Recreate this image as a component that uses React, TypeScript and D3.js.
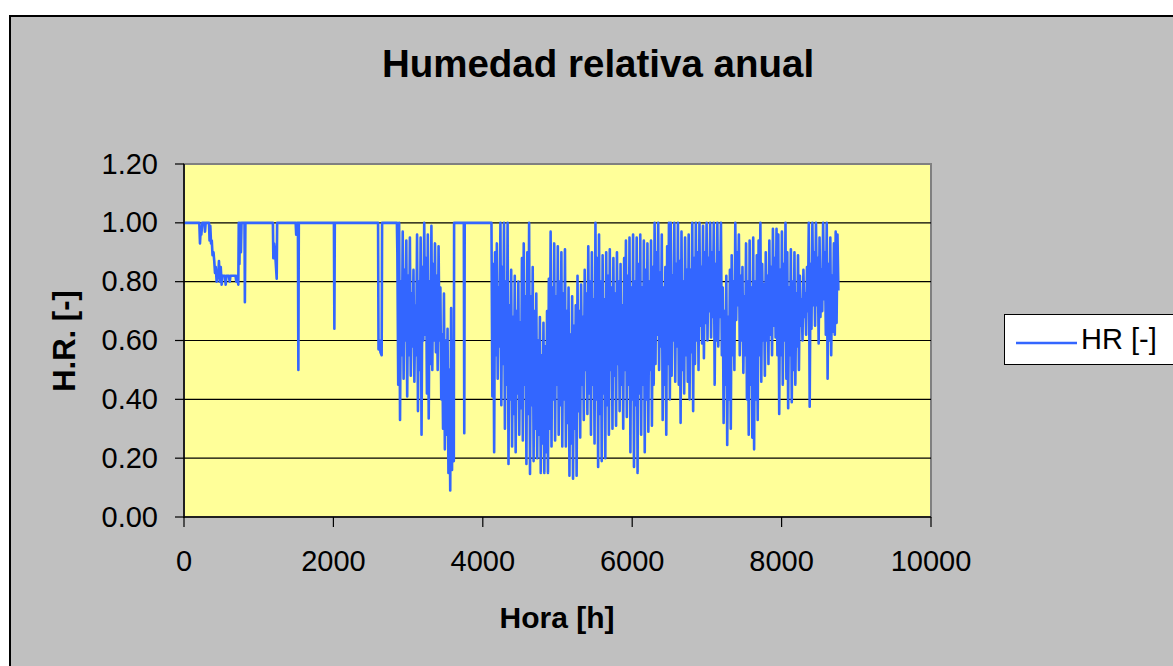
import { scaleLinear, line, format } from "d3";

// hourly relative humidity
// early part: sparse [hour, value] (mostly saturated at 1.0)
const winterPoints: [number, number][] = [
  [0, 1], [205, 1], [214, 0.93], [222, 0.97], [232, 0.96], [245, 1], [275, 1], [281, 0.97],
  [290, 1], [335, 1], [342, 0.94], [352, 0.99], [362, 0.93], [372, 0.94], [382, 0.89],
  [395, 0.9], [405, 0.87], [415, 0.83], [425, 0.85], [437, 0.8], [448, 0.83], [458, 0.82],
  [468, 0.87], [478, 0.8], [492, 0.85], [504, 0.79], [515, 0.82], [548, 0.82], [558, 0.79],
  [568, 0.82], [600, 0.82], [612, 0.8], [622, 0.82], [690, 0.82], [700, 0.8], [712, 0.82],
  [727, 0.79], [733, 1], [742, 0.86], [750, 1], [762, 0.9], [770, 1], [810, 1], [815, 0.73],
  [822, 1], [1190, 1], [1196, 0.88], [1205, 0.93], [1222, 0.89], [1241, 0.81], [1247, 1],
  [1495, 1], [1502, 0.96], [1512, 1], [1525, 1], [1531, 0.5], [1537, 1], [2007, 1],
  [2013, 0.64], [2019, 1], [2598, 1], [2604, 0.57], [2615, 0.6], [2630, 0.56], [2646, 0.55],
  [2652, 1], [2850, 1],
];

// daily [max, min] from hour 2856
const springStart = 2856;
const springDays: [number, number][] = [
  [0.9, 0.45], [1, 0.33], [0.8, 0.55], [0.97, 0.47], [0.84, 0.6], [0.94, 0.41], [0.82, 0.55],
  [0.95, 0.48], [0.76, 0.58], [0.84, 0.46], [0.72, 0.55], [0.96, 0.36], [0.8, 0.5], [0.95, 0.28],
  [0.85, 0.6], [1, 0.62], [0.88, 0.42], [0.96, 0.335], [0.8, 0.52], [0.99, 0.5], [0.86, 0.6],
  [0.93, 0.56], [0.82, 0.5], [0.92, 0.6], [0.78, 0.4], [0.62, 0.3], [0.76, 0.23], [0.6, 0.28],
  [0.64, 0.15], [0.5, 0.09], [0.71, 0.16], [0.6, 0.19],
];

const aprilPoints: [number, number][] = [
  [3616, 1], [3746, 1], [3752, 0.285], [3758, 1], [4110, 1],
];

// daily [max, min] from hour 4116
const summerStart = 4116;
const summerDays: [number, number][] = [
  [1, 0.41], [0.86, 0.22], [0.9, 0.55], [0.93, 0.47], [0.78, 0.58], [1, 0.38], [0.85, 0.52],
  [1, 0.3], [0.8, 0.45], [1, 0.18], [0.72, 0.4], [0.84, 0.24], [0.68, 0.35], [0.82, 0.22],
  [0.7, 0.42], [0.8, 0.28], [0.66, 0.37], [0.88, 0.26], [0.93, 0.45], [0.75, 0.18],
  [0.9, 0.35], [1, 0.146], [0.75, 0.38], [0.85, 0.19], [0.7, 0.3], [0.76, 0.2], [0.6, 0.28],
  [0.68, 0.15], [0.55, 0.25], [0.66, 0.15], [0.58, 0.22], [0.7, 0.15], [0.81, 0.3], [0.97, 0.24],
  [0.78, 0.4], [0.93, 0.26], [0.75, 0.45], [0.92, 0.28], [0.8, 0.38], [0.9, 0.24],
  [0.76, 0.4], [0.91, 0.24], [0.7, 0.32], [0.78, 0.14], [0.62, 0.25], [0.75, 0.13], [0.65, 0.3],
  [0.72, 0.14], [0.82, 0.36], [0.7, 0.27], [0.79, 0.45], [0.68, 0.33], [0.84, 0.5], [0.76, 0.35],
  [0.92, 0.42], [0.8, 0.28], [0.9, 0.45], [0.74, 0.25], [1, 0.4], [0.88, 0.17],
  [0.96, 0.35], [0.8, 0.19], [0.89, 0.42], [0.74, 0.2], [0.9, 0.38], [0.82, 0.28], [0.91, 0.5],
  [0.78, 0.3], [0.88, 0.48], [0.76, 0.31], [0.9, 0.52], [0.8, 0.36], [0.86, 0.45], [0.72, 0.3],
  [0.88, 0.5], [0.94, 0.34], [0.82, 0.45], [0.95, 0.22], [0.78, 0.4], [0.96, 0.17],
  [0.8, 0.38], [0.95, 0.15], [0.86, 0.42], [0.96, 0.28], [0.78, 0.45], [0.94, 0.22], [0.84, 0.4],
  [0.93, 0.29], [0.8, 0.5], [0.94, 0.31], [0.85, 0.45], [1, 0.52], [0.9, 0.62], [1, 0.5],
  [0.83, 0.58], [0.96, 0.33], [0.78, 0.45], [0.85, 0.28], [0.92, 0.52], [1, 0.4],
];

// daily [max, min] from hour 6516
const autumnStart = 6516;
const autumnDays: [number, number][] = [
  [1, 0.48], [0.82, 0.6], [1, 0.46], [0.86, 0.58], [1, 0.45], [0.87, 0.32], [0.97, 0.5],
  [0.8, 0.42], [0.95, 0.55], [0.84, 0.46], [0.96, 0.4], [0.84, 0.56], [1, 0.36], [0.88, 0.52],
  [1, 0.6], [0.9, 0.5], [1, 0.65], [0.85, 0.59], [0.99, 0.54], [0.9, 0.66],
  [1, 0.6], [0.88, 0.7], [1, 0.61], [0.9, 0.68], [1, 0.45], [0.86, 0.6], [1, 0.58],
  [0.9, 0.68], [1, 0.55], [0.78, 0.32], [0.7, 0.45], [0.82, 0.245], [0.68, 0.4], [0.84, 0.3],
  [0.89, 0.55], [0.8, 0.5], [1, 0.67], [0.9, 0.72], [0.96, 0.55], [0.82, 0.6],
  [0.85, 0.49], [0.75, 0.55], [0.93, 0.4], [0.8, 0.28], [0.94, 0.45], [0.78, 0.27], [0.95, 0.23],
  [0.8, 0.4], [0.89, 0.33], [0.94, 0.55], [1, 0.46], [0.86, 0.6], [0.79, 0.48], [0.9, 0.6],
  [0.82, 0.52], [0.94, 0.62], [0.85, 0.55], [0.98, 0.65], [0.88, 0.61], [0.98, 0.55],
  [0.96, 0.35], [0.84, 0.55], [0.97, 0.45], [0.86, 0.6], [1, 0.47], [0.9, 0.37], [0.78, 0.55],
  [0.91, 0.39], [0.8, 0.5], [0.9, 0.45], [0.76, 0.58], [0.89, 0.5], [0.82, 0.65], [0.74, 0.6],
  [0.84, 0.68], [0.76, 0.62], [0.85, 0.7], [1, 0.375], [0.86, 0.64], [1, 0.72],
  [0.9, 0.65], [1, 0.72], [0.88, 0.59], [0.95, 0.68], [0.84, 0.7], [1, 0.74], [0.9, 0.62],
  [1, 0.47], [0.86, 0.6], [0.95, 0.55], [0.82, 0.63], [0.93, 0.62], [0.97, 0.66], [0.96, 0.77],
];

const xTickValues = [0, 2000, 4000, 6000, 8000, 10000];
const yTickValues = [0, 0.2, 0.4, 0.6, 0.8, 1.0, 1.2];

const title = "Humedad relativa anual";
const xTitle = "Hora [h]";
const yTitle = "H.R. [-]";
const seriesName = "HR [-]";

const plot = { left: 184, right: 931, top: 164, bottom: 517 };
const lineColor = "#3366ff";
const font = "'Liberation Sans', Arial, Helvetica, sans-serif";
const formatY = format(".2f");

const dailyToPoints = (start: number, days: [number, number][]) =>
  days.flatMap(([hi, lo], i) => [
    [start + i * 24, hi] as [number, number],
    [start + i * 24 + 12, lo] as [number, number],
  ]);

const App = () => {
  const xScale = scaleLinear().domain([0, 10000]).range([plot.left, plot.right]);
  const yScale = scaleLinear().domain([0, 1.2]).range([plot.bottom, plot.top]);

  const series = [
    ...winterPoints,
    ...dailyToPoints(springStart, springDays),
    ...aprilPoints,
    ...dailyToPoints(summerStart, summerDays),
    ...dailyToPoints(autumnStart, autumnDays),
  ];

  const path = line<[number, number]>()
    .x((d) => xScale(d[0]))
    .y((d) => yScale(d[1]))(series);

  return (
    <div style={{ position: "fixed", left: 0, top: 0 }}>
      <svg width={1173} height={666} fontFamily={font} style={{ display: "block", background: "#fff" }}>
        <rect x={10} y={16} width={1200} height={700} fill="#c0c0c0" stroke="#000" strokeWidth={2} />
        <text x={598} y={77} textAnchor="middle" fontSize={38.5} fontWeight="bold">
          {title}
        </text>

        <rect
          x={plot.left}
          y={plot.top}
          width={plot.right - plot.left}
          height={plot.bottom - plot.top}
          fill="#ffff99"
          stroke="#808080"
          strokeWidth={2}
        />
        {yTickValues.slice(1, -1).map((t) => (
          <line key={t} x1={plot.left} x2={plot.right} y1={yScale(t)} y2={yScale(t)} stroke="#000" strokeWidth={1.2} />
        ))}

        <path d={path ?? ""} fill="none" stroke={lineColor} strokeWidth={2.6} strokeLinejoin="round" />

        {/* axes */}
        <line x1={plot.left} x2={plot.left} y1={plot.top} y2={plot.bottom + 1} stroke="#000" strokeWidth={1.5} />
        <line x1={plot.left} x2={plot.right} y1={plot.bottom} y2={plot.bottom} stroke="#000" strokeWidth={1.5} />
        {yTickValues.map((t) => (
          <g key={t} transform={`translate(0,${yScale(t)})`}>
            <line x1={plot.left - 9} x2={plot.left} stroke="#000" strokeWidth={1.2} />
            <text x={158} y={9.5} textAnchor="end" fontSize={29}>
              {formatY(t)}
            </text>
          </g>
        ))}
        {xTickValues.map((t) => (
          <g key={t} transform={`translate(${xScale(t)},0)`}>
            <line y1={plot.bottom} y2={plot.bottom + 10} stroke="#000" strokeWidth={1.2} />
            <text y={571} textAnchor="middle" fontSize={29}>
              {t}
            </text>
          </g>
        ))}

        <text x={557} y={628} textAnchor="middle" fontSize={30} fontWeight="bold">
          {xTitle}
        </text>
        <text
          transform={`translate(75,341) rotate(-90)`}
          textAnchor="middle"
          fontSize={31}
          fontWeight="bold"
        >
          {yTitle}
        </text>

        {/* legend */}
        <rect x={1004.5} y={314.5} width={190} height={50} fill="#fff" stroke="#000" strokeWidth={1} />
        <line x1={1016} x2={1077} y1={343} y2={343} stroke={lineColor} strokeWidth={2.3} />
        <text x={1081} y={349} fontSize={29}>
          {seriesName}
        </text>
      </svg>
    </div>
  );
};

export default App;
